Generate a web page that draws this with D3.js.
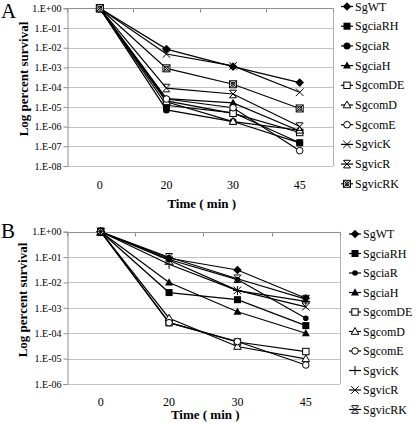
<!DOCTYPE html>
<html><head><meta charset="utf-8">
<script src="https://cdn.jsdelivr.net/npm/d3@7/dist/d3.min.js"></script>
<style>body{margin:0;background:#fff}svg{display:block}text{font-family:"Liberation Serif","Times New Roman",serif;fill:#000}</style>
</head><body><svg id="c" width="416" height="423"></svg>
<script>
const timeLabels = ["0", "20", "30", "45"];
const strainNames = ["SgWT","SgciaRH","SgciaR","SgciaH","SgcomDE","SgcomD","SgcomE","SgvicK","SgvicR","SgvicRK"];
const markersA = ["diamond","squareF","circleF","triF","squareO","triO","circleO","cross","asterisk","crossSquare"];
const markersB = ["diamond","squareF","dotF","triF","squareO","triO","circleO","plus","cross","asterisk"];
// Panel A survival (fraction) at 0, 20, 30, 45 min
const survivalA = [
  [1, 8.5e-3, 1.1e-3, 1.7e-4],
  [1, 1.2e-5, 5e-6, 1.5e-7],
  [1, 7e-6, 1.8e-6, 1.5e-7],
  [1, 2.6e-5, 1.6e-5, 6e-7],
  [1, 2e-5, 4.7e-6, 5e-7],
  [1, 1.8e-5, 1.8e-6, 6.5e-7],
  [1, 2.5e-5, 9e-6, 6e-8],
  [1, 4.8e-3, 1.2e-3, 5.5e-5],
  [1, 9e-5, 4.5e-5, 1e-6],
  [1, 9e-4, 1.4e-4, 8.3e-6]
];
// Panel B survival
const survivalB = [
  [1, 9e-2, 3.1e-2, 2.4e-3],
  [1, 4e-3, 2.1e-3, 2e-4],
  [1, 8e-2, 1.3e-2, 3.9e-4],
  [1, 1e-2, 7e-4, 1e-4],
  [1, 2.6e-4, 4.5e-5, 1.9e-5],
  [1, 3.9e-4, 3e-5, 9.8e-6],
  [1, 2.6e-4, 4.7e-5, 5.6e-6],
  [1, 5.2e-2, 4.8e-3, 1.8e-3],
  [1, 7.5e-2, 4.9e-3, 1.1e-3],
  [1, 9.8e-2, 1.4e-2, 2.2e-3]
];
const yTicksA = [1, 1e-1, 1e-2, 1e-3, 1e-4, 1e-5, 1e-6, 1e-7, 1e-8];
const yTicksB = [1, 1e-1, 1e-2, 1e-3, 1e-4, 1e-5, 1e-6];
const yTitle = "Log percent survival";
const xTitle = "Time ( min )";

const svg = d3.select("#c");

function fmtTick(v) {
  const e = Math.round(Math.log10(v));
  const s = e >= 0 ? "+" : "-";
  return "1.E" + s + String(Math.abs(e)).padStart(2, "0");
}

function drawMarker(g, type, x, y, small) {
  const r = small ? 3.3 : 3.5;
  const k = g.append("g").attr("transform", `translate(${x},${y})`);
  const st = el => el.attr("stroke", "#000").attr("stroke-width", 1);
  switch (type) {
    case "diamond":
      k.append("path").attr("d", `M0,${-4.3}L4.3,0L0,4.3L-4.3,0Z`).attr("fill", "#000"); break;
    case "squareF":
      k.append("rect").attr("x", -r).attr("y", -r).attr("width", 2*r).attr("height", 2*r).attr("fill", "#000"); break;
    case "circleF":
      k.append("circle").attr("r", r).attr("fill", "#000"); break;
    case "dotF":
      k.append("circle").attr("r", 2.8).attr("fill", "#000"); break;
    case "triF":
      k.append("path").attr("d", `M0,-4.2L4,3L-4,3Z`).attr("fill", "#000"); break;
    case "squareO":
      st(k.append("rect").attr("x", -3.2).attr("y", -3.2).attr("width", 6.4).attr("height", 6.4).attr("fill", "#fff")); break;
    case "triO":
      st(k.append("path").attr("d", `M0,-4L3.8,2.8L-3.8,2.8Z`).attr("fill", "#fff")); break;
    case "circleO":
      st(k.append("circle").attr("r", 3.3).attr("fill", "#fff")); break;
    case "cross":
      st(k.append("path").attr("d", `M-3.8,-3.8L3.8,3.8M-3.8,3.8L3.8,-3.8`).attr("fill", "none")); break;
    case "plus":
      st(k.append("path").attr("d", `M-4.5,0L4.5,0M0,-4.5L0,4.5`).attr("fill", "none")); break;
    case "asterisk":
      st(k.append("path").attr("d", `M-3.8,-3.8L3.8,3.8M-3.8,3.8L3.8,-3.8M-3.2,-3.8L3.2,-3.8M-3.2,3.8L3.2,3.8`).attr("fill", "none")); break;
    case "crossSquare":
      st(k.append("rect").attr("x", -3.5).attr("y", -3.5).attr("width", 7).attr("height", 7).attr("fill", "#fff"));
      st(k.append("path").attr("d", `M-3.5,-3.5L3.5,3.5M-3.5,3.5L3.5,-3.5`).attr("fill", "none"));
      st(k.append("circle").attr("r", 2).attr("fill", "none"));
      break;
  }
}

function drawPanel(cfg) {
  const g = svg.append("g");
  const x = d3.scalePoint().domain(timeLabels).range([cfg.left, cfg.right]).padding(0.5);
  const y = d3.scaleLog().domain([cfg.ticks[cfg.ticks.length - 1], 1]).range([cfg.bottom, cfg.top]);
  const step = x.step();

  g.append("g").selectAll("line").data(cfg.ticks).join("line")
    .attr("x1", cfg.left).attr("x2", cfg.right)
    .attr("y1", d => Math.round(y(d)) + 0.5).attr("y2", d => Math.round(y(d)) + 0.5)
    .attr("stroke", "#c4c4c4").attr("stroke-width", 1);
  g.append("line").attr("x1", cfg.right + 0.5).attr("x2", cfg.right + 0.5)
    .attr("y1", cfg.top).attr("y2", cfg.bottom).attr("stroke", "#b0b0b0");
  const yAxis = d3.axisLeft(y).tickValues(cfg.ticks).tickFormat(fmtTick).tickSize(4).tickPadding(2);
  const ya = g.append("g").attr("transform", `translate(${Math.round(cfg.left) + 0.5},0)`).call(yAxis);
  ya.select(".domain").attr("stroke", "#909090");
  ya.selectAll(".tick line").attr("stroke", "#909090");
  ya.selectAll(".tick text").attr("font-family", "Liberation Serif").attr("font-size", 10).attr("fill", "#000");
  const bounds = d3.range(timeLabels.length + 1).map(i => cfg.left + i * step);
  g.append("line").attr("x1", cfg.left).attr("x2", cfg.right)
    .attr("y1", Math.round(y(1)) + 0.5).attr("y2", Math.round(y(1)) + 0.5).attr("stroke", "#909090");
  g.append("g").selectAll("line").data(bounds).join("line")
    .attr("x1", d => Math.round(d) + 0.5).attr("x2", d => Math.round(d) + 0.5)
    .attr("y1", Math.round(y(1)) + 0.5).attr("y2", Math.round(y(1)) + 4.5)
    .attr("stroke", "#909090");
  g.append("g").selectAll("text").data(timeLabels).join("text")
    .attr("x", d => x(d)).attr("y", cfg.tickLabelY)
    .attr("text-anchor", "middle").attr("font-size", 12).text(d => d);
  g.append("text").attr("x", (cfg.left + cfg.right) / 2 + 2).attr("y", cfg.xTitleY)
    .attr("text-anchor", "middle").attr("font-size", 13).attr("font-weight", "bold").text(xTitle);
  g.append("text").attr("transform", `translate(${cfg.yTitleX},${cfg.yTitleY}) rotate(-90)`)
    .attr("text-anchor", "middle").attr("font-size", 13).attr("font-weight", "bold").text(yTitle);
  g.append("text").attr("x", cfg.letterX).attr("y", cfg.letterY).attr("font-size", 21).text(cfg.letter);

  const line = d3.line().x((d, i) => x(timeLabels[i])).y(d => y(d));
  cfg.data.forEach((vals) => {
    g.append("path").attr("d", line(vals)).attr("fill", "none")
      .attr("stroke", "#000").attr("stroke-width", 1.2);
  });
  cfg.data.forEach((vals, si) => {
    vals.forEach((v, i) => drawMarker(g, cfg.markers[si], x(timeLabels[i]), y(v)));
  });

  const lg = g.append("g");
  strainNames.forEach((name, i) => {
    const yy = cfg.legY0 + i * cfg.legStep;
    lg.append("line").attr("x1", cfg.legX1).attr("x2", cfg.legX2).attr("y1", yy).attr("y2", yy)
      .attr("stroke", "#000").attr("stroke-width", 1.2);
    drawMarker(lg, cfg.markers[i], (cfg.legX1 + cfg.legX2) / 2, yy);
    lg.append("text").attr("x", cfg.legX2 + 2).attr("y", yy + 4).attr("font-size", 12).text(name);
  });
}

drawPanel({
  letter: "A", letterX: 1, letterY: 18,
  left: 66.5, right: 333, top: 8.3, bottom: 166,
  ticks: yTicksA, data: survivalA, markers: markersA,
  tickLabelY: 189, xTitleY: 208, yTitleX: 28, yTitleY: 79,
  legX1: 341, legX2: 353, legY0: 6.5, legStep: 19.7
});
drawPanel({
  letter: "B", letterX: 1, letterY: 238,
  left: 66.5, right: 340, top: 231.7, bottom: 384,
  ticks: yTicksB, data: survivalB, markers: markersB,
  tickLabelY: 406, xTitleY: 419, yTitleX: 27, yTitleY: 300,
  legX1: 349, legX2: 361, legY0: 234, legStep: 19.5
});
</script></body></html>
